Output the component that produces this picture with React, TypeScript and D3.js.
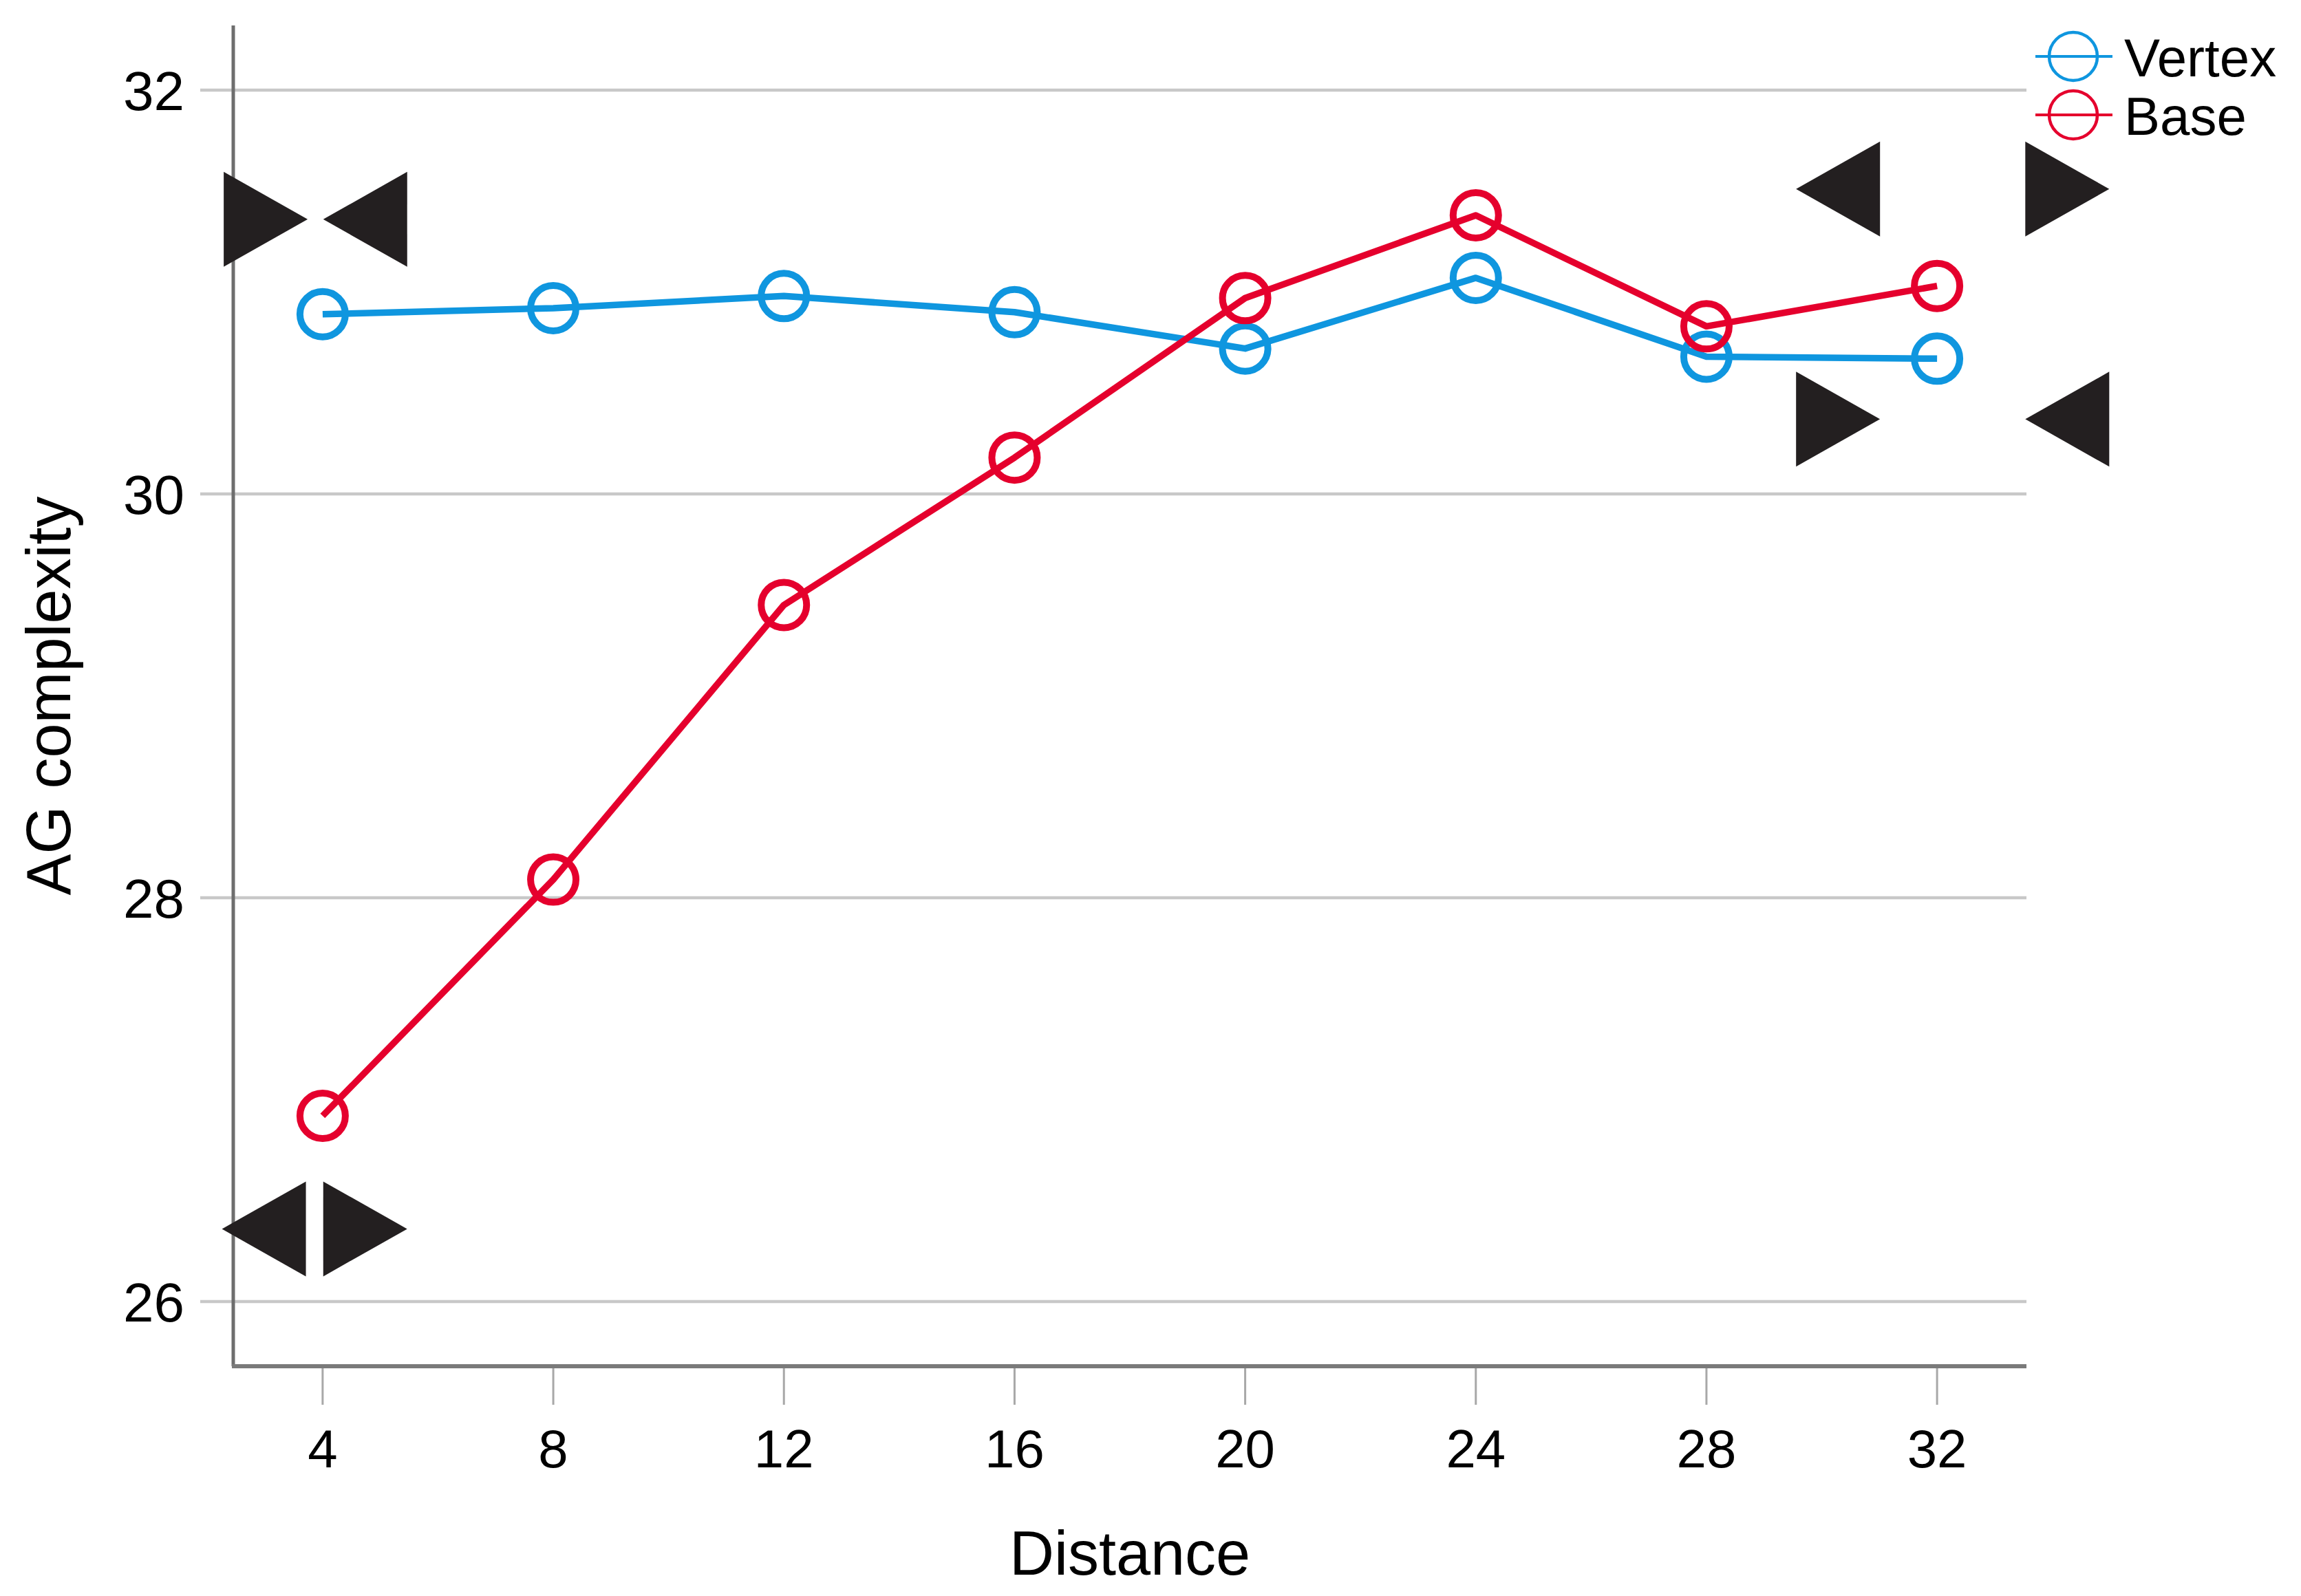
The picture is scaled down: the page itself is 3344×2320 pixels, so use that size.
import { useEffect, useRef } from 'react';
import * as d3 from 'd3';

const distances = [4, 8, 12, 16, 20, 24, 28, 32];
const vertexValues = [30.89, 30.92, 30.98, 30.9, 30.72, 31.07, 30.68, 30.67];
const baseValues = [26.92, 28.09, 29.45, 30.18, 30.97, 31.38, 30.83, 31.03];
const yTicks = [26, 28, 30, 32];
const seriesNames = ['Vertex', 'Base'];

// triangle marker pairs: inner edges (distance units), level, and pointing
const markerLeft = [3.74, 3.71, 31.01, 31.01];
const markerRight = [4.01, 4.01, 33.53, 33.53];
const markerLevel = [31.36, 26.36, 31.51, 30.37];
const markerDir = ['in', 'out', 'out', 'in'];

const W = 3344;
const H = 2320;
const FONT = '"Liberation Sans", Arial, Helvetica, sans-serif';
const colors = ['#0f96df', '#e5002d'];

export default function App() {
    const svgRef = useRef<SVGSVGElement>(null);

    useEffect(() => {
        const svg = d3.select(svgRef.current);
        svg.selectAll('*').remove();

        const left = 339;
        const right = 2945;
        const top = 37;
        const bottom = 1986;

        const x = d3.scaleLinear().domain([2.45, 33.55]).range([left, right]);
        const y = d3.scaleLinear().domain([25.68, 32.32]).range([bottom, top]);

        // gridlines
        svg.append('g')
            .selectAll('line')
            .data(yTicks)
            .enter()
            .append('line')
            .attr('x1', left - 48)
            .attr('x2', right)
            .attr('y1', (d) => y(d))
            .attr('y2', (d) => y(d))
            .attr('stroke', '#c8c8c8')
            .attr('stroke-width', 4.5);

        // y tick labels
        svg.append('g')
            .selectAll('text')
            .data(yTicks)
            .enter()
            .append('text')
            .attr('x', 268)
            .attr('y', (d) => y(d))
            .attr('dy', '0.36em')
            .attr('text-anchor', 'end')
            .style('font-family', FONT)
            .style('font-size', '80px')
            .text((d) => d);

        // x ticks
        const xt = svg.append('g');
        xt.selectAll('line')
            .data(distances)
            .enter()
            .append('line')
            .attr('x1', (d) => x(d))
            .attr('x2', (d) => x(d))
            .attr('y1', bottom)
            .attr('y2', bottom + 56)
            .attr('stroke', '#a8a8a8')
            .attr('stroke-width', 3);
        xt.selectAll('text')
            .data(distances)
            .enter()
            .append('text')
            .attr('x', (d) => x(d))
            .attr('y', 2133)
            .attr('text-anchor', 'middle')
            .style('font-family', FONT)
            .style('font-size', '78px')
            .text((d) => d);

        // axes
        svg.append('line')
            .attr('x1', left)
            .attr('x2', left)
            .attr('y1', top)
            .attr('y2', bottom)
            .attr('stroke', '#6e6e6e')
            .attr('stroke-width', 5);
        svg.append('line')
            .attr('x1', left - 2)
            .attr('x2', right)
            .attr('y1', bottom)
            .attr('y2', bottom)
            .attr('stroke', '#7a7a7a')
            .attr('stroke-width', 6);

        // axis titles
        svg.append('text')
            .attr('x', (left + right) / 2)
            .attr('y', 2289)
            .attr('text-anchor', 'middle')
            .style('font-family', FONT)
            .style('font-size', '90px')
            .text('Distance');
        svg.append('text')
            .attr('transform', `translate(102,${(top + bottom) / 2}) rotate(-90)`)
            .attr('text-anchor', 'middle')
            .style('font-family', FONT)
            .style('font-size', '90px')
            .text('AG complexity');

        // triangle markers
        const tw = 122;
        const th = 69;
        const tri = (edge: number, cy: number, pointRight: boolean, side: 'l' | 'r') => {
            // side 'l' = triangle sits left of edge, 'r' = right of edge
            const x0 = side === 'l' ? edge - tw : edge;
            const x1 = side === 'l' ? edge : edge + tw;
            const pts = pointRight
                ? [[x0, cy - th], [x1, cy], [x0, cy + th]]
                : [[x1, cy - th], [x0, cy], [x1, cy + th]];
            return pts.map((p) => p.join(',')).join(' ');
        };
        const mg = svg.append('g').attr('fill', '#231f20');
        markerLevel.forEach((lv, i) => {
            const cy = y(lv);
            const inward = markerDir[i] === 'in';
            mg.append('polygon').attr('points', tri(x(markerLeft[i]), cy, inward, 'l'));
            mg.append('polygon').attr('points', tri(x(markerRight[i]), cy, !inward, 'r'));
        });

        // series
        const series = [vertexValues, baseValues];
        const line = d3
            .line<number>()
            .x((_, i) => x(distances[i]))
            .y((d) => y(d));
        series.forEach((vals, si) => {
            const g = svg.append('g');
            g.append('path')
                .attr('d', line(vals))
                .attr('fill', 'none')
                .attr('stroke', colors[si])
                .attr('stroke-width', 9.5)
                .attr('stroke-linejoin', 'round');
            g.selectAll('circle')
                .data(vals)
                .enter()
                .append('circle')
                .attr('cx', (_, i) => x(distances[i]))
                .attr('cy', (d) => y(d))
                .attr('r', 33)
                .attr('fill', 'none')
                .attr('stroke', colors[si])
                .attr('stroke-width', 10);
        });

        // legend
        const legend = svg.append('g').attr('transform', 'translate(3013,82)');
        seriesNames.forEach((name, i) => {
            const row = legend.append('g').attr('transform', `translate(0,${i * 85})`);
            row.append('line')
                .attr('x1', -55)
                .attr('x2', 57)
                .attr('stroke', colors[i])
                .attr('stroke-width', 4);
            row.append('circle')
                .attr('r', 35)
                .attr('fill', 'none')
                .attr('stroke', colors[i])
                .attr('stroke-width', 4.5);
            row.append('text')
                .attr('x', 74)
                .attr('y', 29)
                .style('font-family', FONT)
                .style('font-size', '78px')
                .text(name);
        });
    }, []);

    return (
        <svg
            ref={svgRef}
            width={W}
            height={H}
            style={{ position: 'absolute', left: 0, top: 0, background: '#fff' }}
        ></svg>
    );
}
